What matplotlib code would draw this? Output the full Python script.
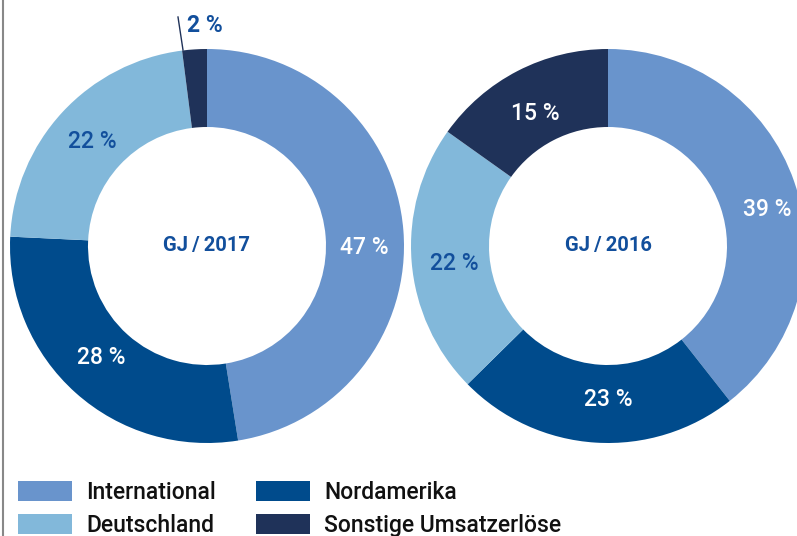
import matplotlib
matplotlib.use("Agg")
import matplotlib.pyplot as plt
from matplotlib.patches import Patch

# ---- data ----
categories = ["International", "Nordamerika", "Deutschland", "Sonstige Umsatzerlöse"]
values_2017 = [47, 28, 22, 2]
values_2016 = [39, 23, 22, 15]
labels_2017 = ["47 %", "28 %", "22 %", "2 %"]
labels_2016 = ["39 %", "23 %", "22 %", "15 %"]
titles = ["GJ\u2009/\u20092017", "GJ\u2009/\u20092016"]
legend_order = ["International", "Deutschland", "Nordamerika", "Sonstige Umsatzerlöse"]

# ---- style ----
colors = {"International": "#6994cc", "Nordamerika": "#004b8c",
          "Deutschland": "#82b8da", "Sonstige Umsatzerlöse": "#1f3259"}
label_colors = {"International": "white", "Nordamerika": "white",
                "Deutschland": "#124f9c", "Sonstige Umsatzerlöse": "white"}
dark_blue = "#124f9c"
plt.rcParams['font.family'] = ['Roboto', 'DejaVu Sans']

W, H = 797, 536
fig = plt.figure(figsize=(W / 100, H / 100), dpi=100)
ax = fig.add_axes([0, 0, 1, 1])

R_OUT, RING = 197, 78
centers = [(207, H - 246), (608, H - 246)]
# label positions (pixel coords, y from top)
label_pos_2017 = [(364, 248), (101, 357), (92, 141), (205, 26)]
label_pos_2016 = [(767, 209), (608, 399), (454, 264), (535, 113)]

for vals, labs, lpos, c, title in [(values_2017, labels_2017, label_pos_2017, centers[0], titles[0]),
                                   (values_2016, labels_2016, label_pos_2016, centers[1], titles[1])]:
    ax.pie(vals, colors=[colors[k] for k in categories], startangle=90, counterclock=False,
           radius=R_OUT, center=c, wedgeprops=dict(width=RING, linewidth=0),
           frame=True)
    for cat, lab, (px, py), v in zip(categories, labs, lpos, vals):
        outside = v < 5
        col = dark_blue if outside else label_colors[cat]
        ax.text(px, H - py, lab, ha="center", va="center", fontsize=16.5,
                color=col, fontweight="bold" if outside else "medium")
    ax.text(c[0], c[1], title, ha="center", va="center", fontsize=14.5,
            color=dark_blue, fontweight="bold")

# leader line for the small slice
ax.plot([178, 183], [H - 17, H - 50], color="#1f3259", lw=1)
# left border
ax.plot([3.5, 3.5], [0, H], color="#888888", lw=1.5)

handles = [Patch(facecolor=colors[k], edgecolor="none", label=k) for k in legend_order]
ax.legend(handles=handles, ncol=2, loc="upper left", bbox_to_anchor=(18, H - 481),
          bbox_transform=ax.transData, frameon=False, borderpad=0,
          borderaxespad=0, handlelength=2.35, handleheight=0.97, handletextpad=0.62,
          columnspacing=1.75, labelspacing=0.42,
          prop=dict(size=16.5, weight="medium"), labelcolor="#111111")

ax.set_xlim(0, W)
ax.set_ylim(0, H)
ax.set_aspect("equal")
ax.set_axis_off()
fig.savefig("out.png", dpi=100)
